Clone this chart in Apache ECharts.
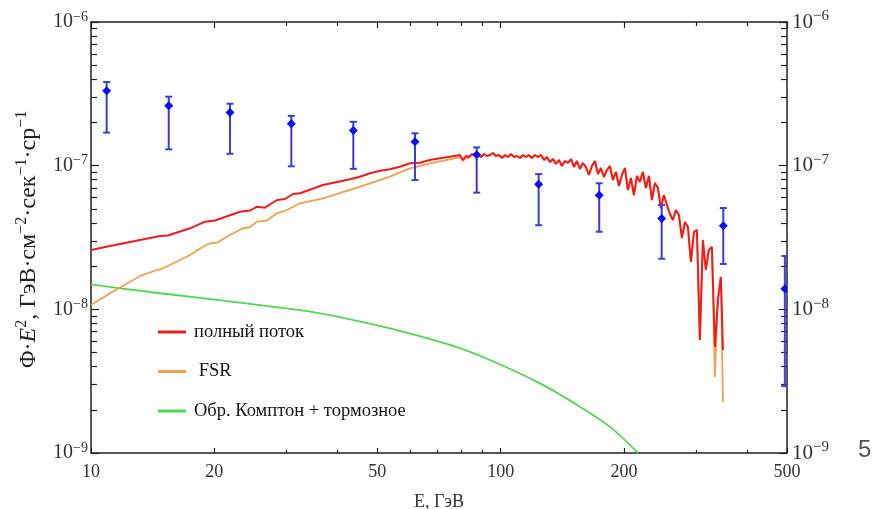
<!DOCTYPE html>
<html>
<head>
<meta charset="utf-8">
<script src="https://cdn.jsdelivr.net/npm/echarts@6/dist/echarts.min.js"></script>
<style>
  html, body { margin: 0; padding: 0; background: #fff; }
  #chart { width: 877px; height: 509px; }
</style>
</head>
<body>
<div id="chart"></div>
<script>
// ---- total flux model (GeV, GeV cm^-2 s^-1 sr^-1) ----
const totalE = [
  10, 11.13, 13.17, 14.74, 15.41, 17.45, 18.98, 20.07, 23.11, 24.44, 25.42, 26.58, 28.44, 29.75,
  31.12, 32.37, 36.84, 42.88, 45.36, 47.97, 50.74, 53.67, 56.77, 60.05, 63.53, 67.19, 71.08, 75.18,
  79.55, 80.90, 82.28, 83.68, 85.10, 86.55, 88.02, 89.52, 91.04, 92.59, 94.16, 95.76, 97.39, 99.05,
  100.7, 102.4, 104.2, 106.0, 107.8, 109.6, 111.5, 113.4, 115.3, 117.2, 119.2, 121.3, 123.3, 125.4,
  127.6, 129.7, 131.9, 134.2, 136.5, 138.8, 141.1, 143.5, 146.0, 148.5, 151.0, 153.5, 156.1, 158.8,
  161.5, 164.2, 167.0, 169.9, 172.8, 175.7, 178.7, 181.7, 184.8, 188.0, 191.2, 194.4, 197.7, 201.1,
  204.5, 207.9, 211.5, 215.1, 218.7, 222.4, 226.2, 230.1, 234.0, 238.0, 242.0, 246.1, 250.3, 254.6,
  258.9, 263.3, 267.8, 272.3, 277.0, 281.7, 286.5, 291.3, 296.3, 301.3, 306.4, 311.6, 316.9, 322.3,
  327.8, 333.4, 339.0, 344.8, 348.9
];
const totalFlux = [
  2.588e-8, 2.760e-8, 3.038e-8, 3.239e-8, 3.265e-8, 3.664e-8, 4.073e-8, 4.152e-8, 4.781e-8, 4.874e-8,
  5.180e-8, 5.097e-8, 5.768e-8, 5.861e-8, 6.351e-8, 6.423e-8, 7.338e-8, 8.039e-8, 8.380e-8, 8.849e-8,
  9.225e-8, 9.435e-8, 9.836e-8, 1.0387e-7, 1.0488e-7, 1.0951e-7, 1.1254e-7, 1.1547e-7,
  1.186e-7, 1.095e-7, 1.168e-7, 1.149e-7, 1.205e-7, 1.168e-7, 1.186e-7, 1.149e-7, 1.205e-7, 1.168e-7,
  1.186e-7, 1.225e-7, 1.168e-7, 1.186e-7, 1.131e-7, 1.186e-7, 1.149e-7, 1.205e-7, 1.149e-7, 1.168e-7,
  1.131e-7, 1.186e-7, 1.149e-7, 1.186e-7, 1.131e-7, 1.186e-7, 1.149e-7, 1.186e-7, 1.095e-7, 1.149e-7,
  1.061e-7, 1.113e-7, 1.027e-7, 1.095e-7, 0.995e-7, 1.078e-7, 1.044e-7, 1.113e-7, 0.979e-7, 1.078e-7,
  0.948e-7, 1.044e-7, 0.979e-7, 0.861e-7, 0.995e-7, 1.078e-7, 0.875e-7, 0.963e-7, 0.834e-7, 0.933e-7,
  0.995e-7, 0.795e-7, 0.904e-7, 0.722e-7, 0.861e-7, 0.963e-7, 0.677e-7, 0.821e-7, 0.625e-7, 0.848e-7,
  0.770e-7, 0.904e-7, 0.699e-7, 0.848e-7, 0.577e-7, 0.758e-7, 0.699e-7, 0.507e-7, 0.625e-7, 0.532e-7,
  0.461e-7, 0.419e-7, 0.491e-7, 0.454e-7, 0.314e-7, 0.405e-7, 0.374e-7, 0.214e-7, 0.345e-7, 0.357e-7,
  0.0612e-7, 0.304e-7, 0.188e-7, 0.259e-7, 0.272e-7, 0.0547e-7, 0.116e-7, 0.168e-7, 0.0521e-7
];

// ---- final-state radiation component ----
const fsrE = [
  10, 11.13, 12.45, 13.17, 14.49, 14.99, 16.49, 17.45, 18.77, 19.52, 20.30, 21.84, 23.50, 24.44,
  25.42, 26.89, 28.44, 30.09, 32.37, 36.84, 42.88, 47.97, 53.67, 60.05, 67.19, 75.18,
  79.55, 80.90, 82.28, 83.68, 85.10, 86.55, 88.02, 89.52, 91.04, 92.59, 94.16, 95.76, 97.39, 99.05,
  100.7, 102.4, 104.2, 106.0, 107.8, 109.6, 111.5, 113.4, 115.3, 117.2, 119.2, 121.3, 123.3, 125.4,
  127.6, 129.7, 131.9, 134.2, 136.5, 138.8, 141.1, 143.5, 146.0, 148.5, 151.0, 153.5, 156.1, 158.8,
  161.5, 164.2, 167.0, 169.9, 172.8, 175.7, 178.7, 181.7, 184.8, 188.0, 191.2, 194.4, 197.7, 201.1,
  204.5, 207.9, 211.5, 215.1, 218.7, 222.4, 226.2, 230.1, 234.0, 238.0, 242.0, 246.1, 250.3, 254.6,
  258.9, 263.3, 267.8, 272.3, 277.0, 281.7, 286.5, 291.3, 296.3, 301.3, 306.4, 311.6, 316.9, 322.3,
  327.8, 333.4, 339.0, 344.8, 348.9
];
const fsrFlux = [
  1.072e-8, 1.293e-8, 1.557e-8, 1.707e-8, 1.878e-8, 1.930e-8, 2.206e-8, 2.389e-8, 2.729e-8, 2.882e-8,
  2.910e-8, 3.292e-8, 3.665e-8, 3.742e-8, 4.073e-8, 4.152e-8, 4.661e-8, 4.913e-8, 5.470e-8, 5.927e-8,
  6.773e-8, 7.540e-8, 8.380e-8, 9.587e-8, 1.0387e-7, 1.1073e-7,
  1.149e-7, 1.078e-7, 1.131e-7, 1.131e-7, 1.205e-7, 1.168e-7, 1.186e-7, 1.149e-7, 1.205e-7, 1.168e-7,
  1.186e-7, 1.225e-7, 1.168e-7, 1.186e-7, 1.131e-7, 1.186e-7, 1.149e-7, 1.205e-7, 1.149e-7, 1.168e-7,
  1.131e-7, 1.186e-7, 1.149e-7, 1.186e-7, 1.131e-7, 1.186e-7, 1.149e-7, 1.186e-7, 1.095e-7, 1.149e-7,
  1.061e-7, 1.113e-7, 1.027e-7, 1.095e-7, 0.995e-7, 1.078e-7, 1.044e-7, 1.113e-7, 0.979e-7, 1.078e-7,
  0.948e-7, 1.044e-7, 0.979e-7, 0.861e-7, 0.995e-7, 1.078e-7, 0.875e-7, 0.963e-7, 0.834e-7, 0.933e-7,
  0.995e-7, 0.795e-7, 0.904e-7, 0.722e-7, 0.861e-7, 0.963e-7, 0.677e-7, 0.821e-7, 0.625e-7, 0.848e-7,
  0.770e-7, 0.904e-7, 0.699e-7, 0.848e-7, 0.577e-7, 0.758e-7, 0.699e-7, 0.507e-7, 0.625e-7, 0.532e-7,
  0.461e-7, 0.419e-7, 0.491e-7, 0.454e-7, 0.314e-7, 0.405e-7, 0.374e-7, 0.214e-7, 0.345e-7, 0.357e-7,
  0.0612e-7, 0.304e-7, 0.188e-7, 0.259e-7, 0.272e-7, 0.0338e-7, 0.116e-7, 0.168e-7, 0.0226e-7
];

// ---- inverse Compton + bremsstrahlung component ----
const icE    = [10, 13.93, 18.45, 32.37, 38.3, 53.7, 75.2, 94.1, 124.8, 156.2, 185, 216.4];
const icFlux = [1.49e-8, 1.32e-8, 1.20e-8, 9.89e-9, 9.13e-9, 7.38e-9, 5.65e-9, 4.44e-9,
                3.05e-9, 2.10e-9, 1.52e-9, 1.0e-9];

// ---- measured points with error bars ----
const obsE    = [10.92, 15.48, 21.84, 30.83, 43.68, 61.79, 87.40, 123.8, 174.0, 247.2, 349.5, 494];
const obsFlux = [3.32e-7, 2.61e-7, 2.34e-7, 1.96e-7, 1.76e-7, 1.47e-7, 1.19e-7, 7.41e-8, 6.22e-8, 4.29e-8, 3.82e-8, 1.39e-8];
const obsHigh = [3.82e-7, 3.02e-7, 2.70e-7, 2.22e-7, 2.02e-7, 1.68e-7, 1.34e-7, 8.74e-8, 7.54e-8, 5.32e-8, 5.07e-8, 2.35e-8];
const obsLow  = [1.70e-7, 1.30e-7, 1.21e-7, 9.9e-8, 9.5e-8, 7.94e-8, 6.49e-8, 3.85e-8, 3.47e-8, 2.25e-8, 2.07e-8, 2.92e-9];

// ---- ticks ----
const xMajorTicks = [10, 20, 50, 100, 200, 500];
const xMinorTicks = [30, 40, 60, 70, 80, 90, 300, 400];
const yMajorTicks = [1e-9, 1e-8, 1e-7, 1e-6];
const yTickLabels = ['10{s|−9}', '10{s|−8}', '10{s|−7}', '10{s|−6}'];
const yMinorTicks = [2e-9, 3e-9, 4e-9, 5e-9, 6e-9, 7e-9, 8e-9, 9e-9,
                     2e-8, 3e-8, 4e-8, 5e-8, 6e-8, 7e-8, 8e-8, 9e-8,
                     2e-7, 3e-7, 4e-7, 5e-7, 6e-7, 7e-7, 8e-7, 9e-7];

const names = { total: 'полный поток', fsr: ' FSR', ic: 'Обр. Комптон + тормозное' };
const SERIF = 'Liberation Serif';
const AX = '#222';

const pairs = (xs, ys) => xs.map((x, i) => [x, ys[i]]);
const yLabel = v => {
  const i = yMajorTicks.findIndex(t => Math.abs(Math.log10(t) - Math.log10(v)) < 1e-6);
  return i >= 0 ? yTickLabels[i] : '';
};

function xAxisDef(pos, ticks, len, withLabels, withLine) {
  return {
    type: 'log', logBase: 10, min: 10, max: 500, position: pos,
    axisLine: { show: withLine, onZero: false, lineStyle: { color: AX, width: 1.5 } },
    axisTick: { show: true, inside: true, length: len, customValues: ticks, lineStyle: { color: AX, width: 1.2 } },
    axisLabel: withLabels ? {
      show: true, customValues: ticks, formatter: v => String(Math.round(v)),
      color: '#333', fontFamily: SERIF, fontSize: 18, margin: 10
    } : { show: false },
    splitLine: { show: false }
  };
}
function yAxisDef(pos, ticks, len, labelStyle, withLine) {
  return {
    type: 'log', logBase: 10, min: 1e-9, max: 1e-6, position: pos,
    axisLine: { show: withLine, onZero: false, lineStyle: { color: AX, width: 1.5 } },
    axisTick: { show: true, inside: true, length: len, customValues: ticks, lineStyle: { color: AX, width: 1.2 } },
    axisLabel: labelStyle ? Object.assign({ show: true, customValues: ticks, formatter: yLabel }, labelStyle) : { show: false },
    splitLine: { show: false }
  };
}

const chart = echarts.init(document.getElementById('chart'), null, { renderer: 'canvas' });

const xAxes = [
  xAxisDef('bottom', xMajorTicks, 5, true, true),
  xAxisDef('bottom', xMinorTicks, 3, false, false),
  xAxisDef('top', xMajorTicks, 6, false, true),
  xAxisDef('top', xMinorTicks, 4, false, false)
];
xAxes[0].name = 'E, ГэВ';
xAxes[0].nameLocation = 'middle';
xAxes[0].nameGap = 40;
xAxes[0].nameTextStyle = { fontFamily: SERIF, fontSize: 18, color: '#333' };

const yAxes = [
  yAxisDef('left', yMajorTicks, 8, {
    color: '#333', fontFamily: SERIF, fontSize: 20, lineHeight: 24, margin: 3,
    rich: { s: { fontFamily: SERIF, fontSize: 14, color: '#333', verticalAlign: 'top', lineHeight: 24 } }
  }, true),
  yAxisDef('left', yMinorTicks, 6, null, false),
  yAxisDef('right', yMajorTicks, 8, {
    color: '#333', fontFamily: SERIF, fontSize: 21, lineHeight: 26, margin: 5,
    rich: { s: { fontFamily: SERIF, fontSize: 15, color: '#333', verticalAlign: 'top', lineHeight: 26 } }
  }, true),
  yAxisDef('right', yMinorTicks, 6, null, false)
];

chart.setOption({
  animation: false,
  backgroundColor: '#fff',
  grid: { left: 91, right: 90, top: 22, bottom: 56, containLabel: false, outerBoundsMode: 'none' },
  xAxis: xAxes,
  yAxis: yAxes,
  legend: {
    orient: 'vertical', left: 153, top: 317, selectedMode: false,
    icon: 'rect', itemWidth: 28, itemHeight: 3, itemGap: 19.5,
    data: [names.total, names.fsr, names.ic],
    textStyle: { fontFamily: SERIF, fontSize: 18.5, color: '#111', lineHeight: 20, padding: [0, 0, 0, 3] }
  },
  graphic: [
    {
      type: 'text', x: 29, y: 368, rotation: Math.PI / 2,
      style: {
        text: '{n|Φ·}{i|E}{u|2}{n|, ГэВ·см}{u|−2}{n|·сек}{u|−1}{n|·ср}{u|−1}',
        align: 'left', verticalAlign: 'middle',
        rich: {
          n: { fontFamily: SERIF, fontSize: 24, fill: '#222', lineHeight: 30 },
          i: { fontFamily: SERIF, fontSize: 24, fontStyle: 'italic', fill: '#222', lineHeight: 30 },
          u: { fontFamily: SERIF, fontSize: 16, fill: '#222', verticalAlign: 'top', lineHeight: 30 }
        }
      }
    },
    {
      type: 'text', x: 858, y: 438,
      style: { text: '5', fontFamily: 'Liberation Sans', fontSize: 24, fill: '#555' }
    }
  ],
  series: [
    {
      name: names.ic, type: 'line', data: pairs(icE, icFlux), smooth: 0.3,
      showSymbol: false, symbol: 'none', clip: true,
      itemStyle: { color: '#4fd94f' }, lineStyle: { color: '#4fd94f', width: 1.8 }
    },
    {
      name: names.fsr, type: 'line', data: pairs(fsrE, fsrFlux),
      showSymbol: false, symbol: 'none', clip: true,
      itemStyle: { color: '#f2a04a' }, lineStyle: { color: '#f2a04a', width: 1.8 }
    },
    {
      name: names.total, type: 'line', data: pairs(totalE, totalFlux),
      showSymbol: false, symbol: 'none', clip: true,
      itemStyle: { color: '#f21c1c' }, lineStyle: { color: '#f21c1c', width: 2 }
    },
    {
      name: 'data', type: 'custom', clip: true, z: 5,
      data: obsE.map((e, i) => [e, obsFlux[i], obsLow[i], obsHigh[i]]),
      encode: { x: 0, y: 1 },
      renderItem: (params, api) => {
        const c = api.coord([api.value(0), api.value(1)]);
        const lo = api.coord([api.value(0), api.value(2)]);
        const hi = api.coord([api.value(0), api.value(3)]);
        const cap = 3.5, d = 4.5;
        const bar = { stroke: '#3c3cdc', lineWidth: 2 };
        return {
          type: 'group',
          children: [
            { type: 'line', shape: { x1: c[0], y1: lo[1], x2: c[0], y2: hi[1] }, style: bar },
            { type: 'line', shape: { x1: c[0] - cap, y1: lo[1], x2: c[0] + cap, y2: lo[1] }, style: bar },
            { type: 'line', shape: { x1: c[0] - cap, y1: hi[1], x2: c[0] + cap, y2: hi[1] }, style: bar },
            { type: 'polygon',
              shape: { points: [[c[0], c[1] - d], [c[0] + d, c[1]], [c[0], c[1] + d], [c[0] - d, c[1]]] },
              style: { fill: '#0a0aff' } }
          ]
        };
      }
    }
  ]
});
</script>
</body>
</html>
